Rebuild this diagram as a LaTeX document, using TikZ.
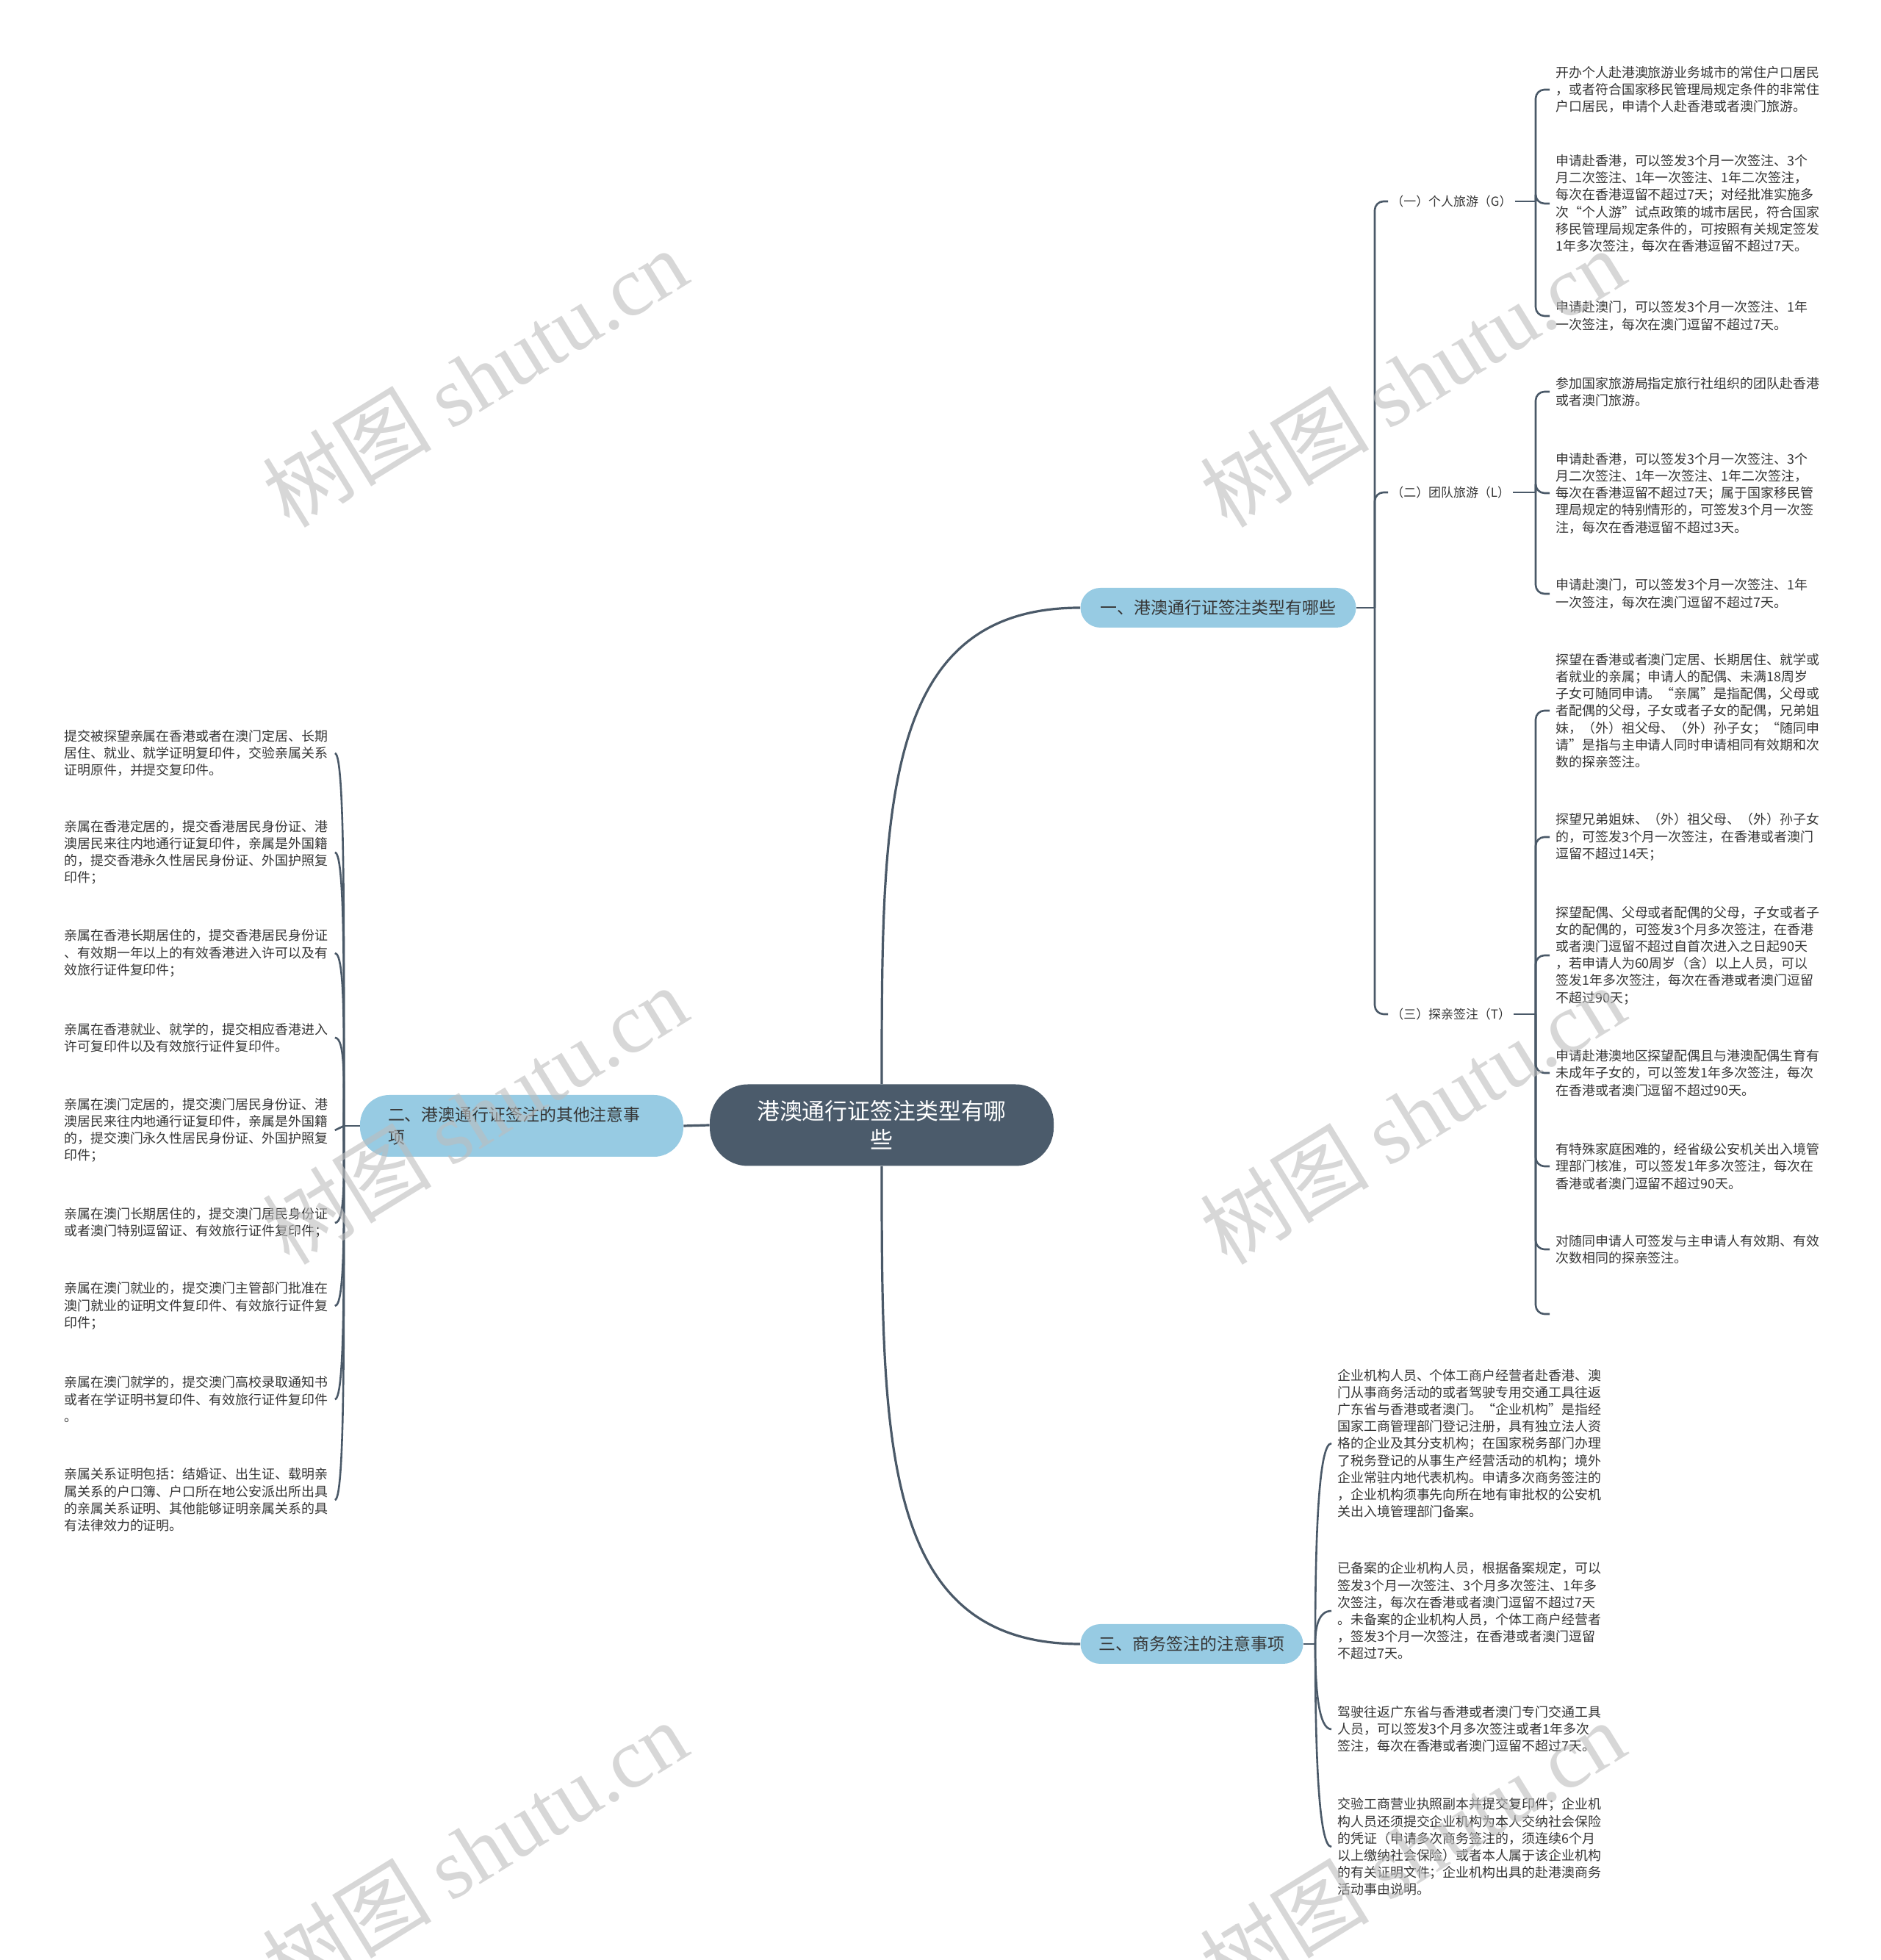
\documentclass[tikz,border=0pt]{standalone}
\usepackage{fontspec}
\setmainfont{Noto Sans CJK SC}
\newfontfamily\wmserif{Liberation Serif}
\definecolor{linecol}{HTML}{4A5968}
\definecolor{rootcol}{HTML}{4B5B6B}
\definecolor{topiccol}{HTML}{97CBE3}
\definecolor{textcol}{HTML}{363636}
\definecolor{markcol}{HTML}{BDBDBD}
\begin{document}
\begin{tikzpicture}[>=latex,line join=bevel,
  rootnode/.style={rounded corners=26bp,fill=rootcol,text=white,align=center,font=\fontsize{15.5}{19.5}\selectfont,minimum width=234bp,minimum height=55.5bp,inner sep=0pt},
  topic/.style={rounded corners=13.5bp,fill=topiccol,text=textcol,font=\fontsize{11.5}{15.3}\selectfont,minimum height=27bp,inner sep=0pt},
  sublabel/.style={anchor=west,inner sep=2bp,text=textcol,font=\fontsize{8.5}{10}\selectfont},
  leaf/.style={anchor=west,align=left,text width=180bp,inner xsep=4bp,inner ysep=2bp,text=textcol,font=\fontsize{9}{11.65}\selectfont},
  conn/.style={draw=linecol,line width=1.3bp},
  bracket/.style={conn,rounded corners=6bp},
  watermark/.style={text=markcol,text opacity=0.6,rotate=31.6,font=\fontsize{58}{60}\selectfont},
]
\fill [white] (0bp,0bp) rectangle (1280bp,1333.5bp);
\useasboundingbox (0bp,0bp) rectangle (1280bp,1333.5bp);
%%
\node (node_root) at (600bp,568bp) [rootnode] {港澳通行证签注类型有哪\\些};
  \node (node_b1) at (829bp,920bp) [topic,minimum width=187.5bp] {一、港澳通行证签注类型有哪些};
  \node (node_b2) at (355bp,567.5bp) [topic,rounded corners=20bp,minimum height=42bp,text width=182bp,align=left,inner xsep=19bp] {二、港澳通行证签注的其他注意事\\项};
  \node (node_b3) at (811bp,215bp) [topic,minimum width=151.5bp] {三、商务签注的注意事项};
  \draw [conn,line width=1.6bp] (node_root.north) ..controls (600bp,783.5bp) and (600bp,920bp)  .. (node_b1.west);
  \draw [conn,line width=1.6bp] (node_root.south) ..controls (600bp,352bp) and (600bp,215bp)  .. (node_b3.west);
  \draw [conn,line width=1.6bp] (node_root.west) -- (node_b2.east);
%% topic one
\node (node_g) at (944.5bp,1196.5bp) [sublabel] {（一）个人旅游（G）};
  \node (node_l) at (944.5bp,998.5bp) [sublabel] {（二）团队旅游（L）};
  \node (node_t) at (944.5bp,643.5bp) [sublabel] {（三）探亲签注（T）};
  \coordinate (j_b1) at (935.5bp,920bp);
  \draw [conn] (node_b1.east) -- (j_b1);
  \draw [bracket] (j_b1) |- (node_g.west);
  \draw [bracket] (j_b1) |- (node_l.west);
  \draw [bracket] (j_b1) |- (node_t.west);
%
\node (node_g1) at (1054.5bp,1272.5bp) [leaf] {开办个人赴港澳旅游业务城市的常住户口居民\\，或者符合国家移民管理局规定条件的非常住\\户口居民，申请个人赴香港或者澳门旅游。};
  \node (node_g2) at (1054.5bp,1195bp) [leaf] {申请赴香港，可以签发3个月一次签注、3个\\月二次签注、1年一次签注、1年二次签注，\\每次在香港逗留不超过7天；对经批准实施多\\次“个人游”试点政策的城市居民，符合国家\\移民管理局规定条件的，可按照有关规定签发\\1年多次签注，每次在香港逗留不超过7天。};
  \node (node_g3) at (1054.5bp,1118.5bp) [leaf] {申请赴澳门，可以签发3个月一次签注、1年\\一次签注，每次在澳门逗留不超过7天。};
  \coordinate (j_g) at (1045bp,1196.5bp);
  \draw [conn] (node_g.east) -- (j_g);
  \draw [bracket] (j_g) |- (node_g1.west);
  \draw [bracket] (j_g) |- (node_g2.west);
  \draw [bracket] (j_g) |- (node_g3.west);
%
\node (node_l1) at (1054.5bp,1067bp) [leaf] {参加国家旅游局指定旅行社组织的团队赴香港\\或者澳门旅游。};
  \node (node_l2) at (1054.5bp,998bp) [leaf] {申请赴香港，可以签发3个月一次签注、3个\\月二次签注、1年一次签注、1年二次签注，\\每次在香港逗留不超过7天；属于国家移民管\\理局规定的特别情形的，可签发3个月一次签\\注，每次在香港逗留不超过3天。};
  \node (node_l3) at (1054.5bp,929.5bp) [leaf] {申请赴澳门，可以签发3个月一次签注、1年\\一次签注，每次在澳门逗留不超过7天。};
  \coordinate (j_l) at (1045bp,998.5bp);
  \draw [conn] (node_l.east) -- (j_l);
  \draw [bracket] (j_l) |- (node_l1.west);
  \draw [bracket] (j_l) |- (node_l2.west);
  \draw [bracket] (j_l) |- (node_l3.west);
%
\node (node_t1) at (1054.5bp,850bp) [leaf] {探望在香港或者澳门定居、长期居住、就学或\\者就业的亲属；申请人的配偶、未满18周岁\\子女可随同申请。“亲属”是指配偶，父母或\\者配偶的父母，子女或者子女的配偶，兄弟姐\\妹，（外）祖父母、（外）孙子女；“随同申\\请”是指与主申请人同时申请相同有效期和次\\数的探亲签注。};
  \node (node_t2) at (1054.5bp,764bp) [leaf] {探望兄弟姐妹、（外）祖父母、（外）孙子女\\的，可签发3个月一次签注，在香港或者澳门\\逗留不超过14天；};
  \node (node_t3) at (1054.5bp,683.5bp) [leaf] {探望配偶、父母或者配偶的父母，子女或者子\\女的配偶的，可签发3个月多次签注，在香港\\或者澳门逗留不超过自首次进入之日起90天\\，若申请人为60周岁（含）以上人员，可以\\签发1年多次签注，每次在香港或者澳门逗留\\不超过90天；};
  \node (node_t4) at (1054.5bp,603.5bp) [leaf] {申请赴港澳地区探望配偶且与港澳配偶生育有\\未成年子女的，可以签发1年多次签注，每次\\在香港或者澳门逗留不超过90天。};
  \node (node_t5) at (1054.5bp,540bp) [leaf] {有特殊家庭困难的，经省级公安机关出入境管\\理部门核准，可以签发1年多次签注，每次在\\香港或者澳门逗留不超过90天。};
  \node (node_t6) at (1054.5bp,483.5bp) [leaf] {对随同申请人可签发与主申请人有效期、有效\\次数相同的探亲签注。};
  \coordinate (node_t7) at (1054.5bp,439.5bp);
  \coordinate (j_t) at (1045bp,643.5bp);
  \draw [conn] (node_t.east) -- (j_t);
  \foreach \k in {1,...,6} {
    \draw [bracket] (j_t) |- (node_t\k.west);
  }
  \draw [bracket] (j_t) |- (node_t7);
%% topic two
\node (node_k1) at (39.5bp,821bp) [leaf] {提交被探望亲属在香港或者在澳门定居、长期\\居住、就业、就学证明复印件，交验亲属关系\\证明原件，并提交复印件。};
  \node (node_k2) at (39.5bp,753.5bp) [leaf] {亲属在香港定居的，提交香港居民身份证、港\\澳居民来往内地通行证复印件，亲属是外国籍\\的，提交香港永久性居民身份证、外国护照复\\印件；};
  \node (node_k3) at (39.5bp,685bp) [leaf] {亲属在香港长期居住的，提交香港居民身份证\\、有效期一年以上的有效香港进入许可以及有\\效旅行证件复印件；};
  \node (node_k4) at (39.5bp,627.5bp) [leaf] {亲属在香港就业、就学的，提交相应香港进入\\许可复印件以及有效旅行证件复印件。};
  \node (node_k5) at (39.5bp,564.5bp) [leaf] {亲属在澳门定居的，提交澳门居民身份证、港\\澳居民来往内地通行证复印件，亲属是外国籍\\的，提交澳门永久性居民身份证、外国护照复\\印件；};
  \node (node_k6) at (39.5bp,501.5bp) [leaf] {亲属在澳门长期居住的，提交澳门居民身份证\\或者澳门特别逗留证、有效旅行证件复印件；};
  \node (node_k7) at (39.5bp,445bp) [leaf] {亲属在澳门就业的，提交澳门主管部门批准在\\澳门就业的证明文件复印件、有效旅行证件复\\印件；};
  \node (node_k8) at (39.5bp,381.5bp) [leaf] {亲属在澳门就学的，提交澳门高校录取通知书\\或者在学证明书复印件、有效旅行证件复印件\\。};
  \node (node_k9) at (39.5bp,313bp) [leaf] {亲属关系证明包括：结婚证、出生证、载明亲\\属关系的户口簿、户口所在地公安派出所出具\\的亲属关系证明、其他能够证明亲属关系的具\\有法律效力的证明。};
  \coordinate (j_b2) at (234bp,567.5bp);
  \draw [conn] (node_b2.west) -- (j_b2);
  \draw [conn] (j_b2) ..controls (234bp,694bp) and (235bp,821bp)  .. (node_k1.east);
  \draw [conn] (j_b2) ..controls (234bp,660bp) and (235bp,753.5bp)  .. (node_k2.east);
  \draw [conn] (j_b2) ..controls (234bp,626bp) and (235bp,685bp)  .. (node_k3.east);
  \draw [conn] (j_b2) ..controls (234bp,597bp) and (235bp,627.5bp)  .. (node_k4.east);
  \draw [conn] (j_b2) -- (node_k5.east);
  \draw [conn] (j_b2) ..controls (234bp,534bp) and (235bp,501.5bp)  .. (node_k6.east);
  \draw [conn] (j_b2) ..controls (234bp,506bp) and (235bp,445bp)  .. (node_k7.east);
  \draw [conn] (j_b2) ..controls (234bp,474bp) and (235bp,381.5bp)  .. (node_k8.east);
  \draw [conn] (j_b2) ..controls (234bp,440bp) and (235bp,313bp)  .. (node_k9.east);
%% topic three
\node (node_c1) at (906bp,351.5bp) [leaf] {企业机构人员、个体工商户经营者赴香港、澳\\门从事商务活动的或者驾驶专用交通工具往返\\广东省与香港或者澳门。“企业机构”是指经\\国家工商管理部门登记注册，具有独立法人资\\格的企业及其分支机构；在国家税务部门办理\\了税务登记的从事生产经营活动的机构；境外\\企业常驻内地代表机构。申请多次商务签注的\\，企业机构须事先向所在地有审批权的公安机\\关出入境管理部门备案。};
  \node (node_c2) at (906bp,237.5bp) [leaf] {已备案的企业机构人员，根据备案规定，可以\\签发3个月一次签注、3个月多次签注、1年多\\次签注，每次在香港或者澳门逗留不超过7天\\。未备案的企业机构人员，个体工商户经营者\\，签发3个月一次签注，在香港或者澳门逗留\\不超过7天。};
  \node (node_c3) at (906bp,157bp) [leaf] {驾驶往返广东省与香港或者澳门专门交通工具\\人员，可以签发3个月多次签注或者1年多次\\签注，每次在香港或者澳门逗留不超过7天。};
  \node (node_c4) at (906bp,77bp) [leaf] {交验工商营业执照副本并提交复印件；企业机\\构人员还须提交企业机构为本人交纳社会保险\\的凭证（申请多次商务签注的，须连续6个月\\以上缴纳社会保险）或者本人属于该企业机构\\的有关证明文件；企业机构出具的赴港澳商务\\活动事由说明。};
  \coordinate (j_b3) at (895bp,215bp);
  \draw [conn] (node_b3.east) -- (j_b3);
  \draw [conn] (j_b3) ..controls (895bp,283bp) and (897bp,351.5bp)  .. (node_c1.west);
  \draw [conn] (j_b3) ..controls (895bp,226bp) and (897bp,237.5bp)  .. (node_c2.west);
  \draw [conn] (j_b3) ..controls (895bp,186bp) and (897bp,157bp)  .. (node_c3.west);
  \draw [conn] (j_b3) ..controls (895bp,146bp) and (897bp,77bp)  .. (node_c4.west);
%% marks
\node (mark_1) at (323bp,1076.5bp) [watermark] {树图 {\wmserif shutu.cn}};
  \node (mark_2) at (961bp,1076.5bp) [watermark] {树图 {\wmserif shutu.cn}};
  \node (mark_3) at (323bp,575bp) [watermark] {树图 {\wmserif shutu.cn}};
  \node (mark_4) at (961bp,575bp) [watermark] {树图 {\wmserif shutu.cn}};
  \node (mark_5) at (323bp,75bp) [watermark] {树图 {\wmserif shutu.cn}};
  \node (mark_6) at (961bp,75bp) [watermark] {树图 {\wmserif shutu.cn}};
%
\end{tikzpicture}
\end{document}
